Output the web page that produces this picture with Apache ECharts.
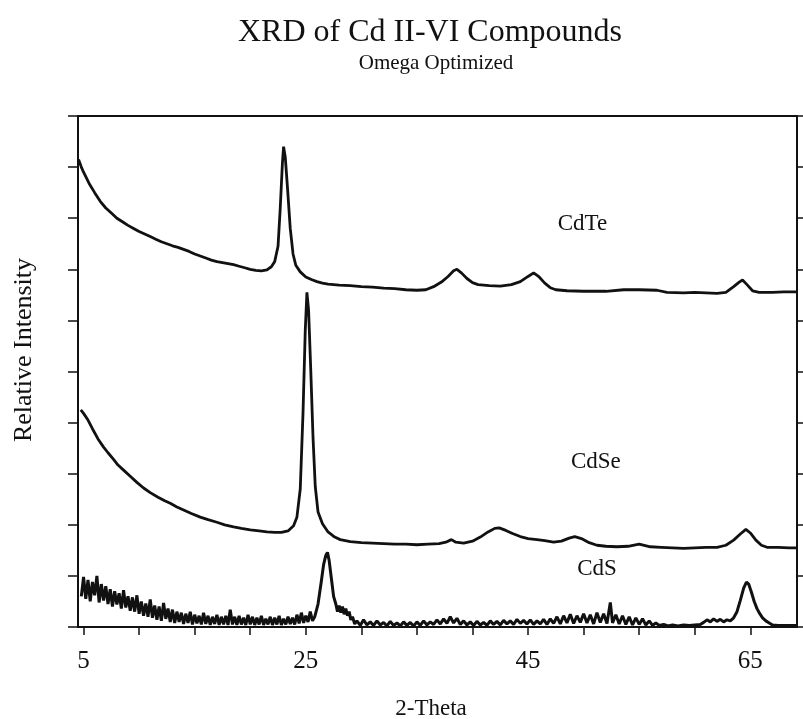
<!DOCTYPE html>
<html><head><meta charset="utf-8">
<script src="https://cdn.jsdelivr.net/npm/echarts@6/dist/echarts.min.js"></script>
<style>html,body{margin:0;padding:0;background:#fff}#c{width:803px;height:719px}</style>
</head><body><div id="c"></div>
<script>
const titleText = 'XRD of Cd II-VI Compounds';
const subtitleText = 'Omega Optimized';
const xName = '2-Theta';
const yName = 'Relative Intensity';
const xTicks = [5,10,15,20,25,30,35,40,45,50,55,60,65];
const xTickLabels = [5,25,45,65];
const seriesNames = ['CdTe','CdSe','CdS'];
const labelPos = [[49.9,7.89],[51.1,3.23],[51.2,1.13]];

const cdTe = [[4.55,9.15],[4.8,9.0],[5.0,8.9],[5.5,8.68],[6.0,8.5],[6.5,8.33],[7.0,8.2],[7.5,8.1],[8.0,8.0],[8.5,7.93],[9.0,7.86],[9.5,7.8],[10.0,7.74],[10.5,7.69],[11.0,7.64],[11.5,7.59],[12.0,7.54],[12.5,7.5],[13.0,7.46],[13.5,7.43],[14.0,7.39],[14.5,7.35],[15.0,7.3],[15.5,7.26],[16.0,7.22],[16.5,7.18],[17.0,7.15],[17.5,7.13],[18.0,7.11],[18.5,7.09],[19.0,7.06],[19.5,7.03],[20.0,7.0],[20.5,6.98],[21.0,6.97],[21.5,6.99],[21.9,7.05],[22.2,7.15],[22.5,7.45],[22.7,8.2],[22.9,9.1],[23.0,9.4],[23.15,9.2],[23.35,8.6],[23.6,7.8],[23.85,7.3],[24.1,7.08],[24.5,6.95],[25.0,6.85],[25.5,6.8],[26.0,6.76],[26.5,6.73],[27.0,6.71],[28,6.69],[29,6.68],[30,6.66],[31,6.65],[32,6.63],[33,6.62],[34,6.6],[35,6.59],[35.8,6.6],[36.5,6.66],[37.2,6.75],[37.8,6.86],[38.3,6.97],[38.6,7.0],[39.0,6.93],[39.5,6.82],[40.0,6.74],[40.5,6.7],[41.5,6.68],[42.5,6.67],[43.5,6.7],[44.3,6.76],[45.0,6.86],[45.5,6.93],[46.0,6.85],[46.5,6.73],[47.0,6.64],[47.5,6.6],[48.5,6.58],[50,6.57],[52,6.57],[53.6,6.6],[55,6.6],[56.6,6.59],[57.5,6.55],[59,6.54],[60,6.55],[61,6.54],[62,6.53],[62.8,6.55],[63.5,6.66],[64.0,6.75],[64.3,6.79],[64.7,6.7],[65.2,6.58],[65.8,6.55],[67,6.55],[68,6.56],[69.2,6.56]];

const cdSe = [[4.75,4.25],[5.0,4.18],[5.4,4.05],[5.8,3.88],[6.3,3.68],[6.8,3.52],[7.2,3.41],[7.7,3.28],[8.1,3.17],[8.6,3.07],[9.2,2.95],[9.8,2.83],[10.4,2.72],[11.0,2.63],[11.7,2.54],[12.3,2.47],[12.8,2.42],[13.4,2.35],[14.0,2.29],[14.7,2.22],[15.5,2.15],[16.2,2.1],[17.0,2.05],[17.7,2.0],[18.5,1.96],[19.2,1.93],[20.0,1.9],[20.8,1.88],[21.5,1.86],[22.2,1.85],[22.8,1.85],[23.4,1.88],[23.9,1.98],[24.2,2.15],[24.5,2.7],[24.75,4.2],[24.95,5.8],[25.1,6.55],[25.25,6.2],[25.45,5.0],[25.65,3.7],[25.85,2.75],[26.1,2.25],[26.5,2.02],[27.0,1.86],[27.6,1.76],[28.1,1.71],[29,1.67],[30,1.65],[31,1.64],[32,1.63],[33,1.62],[34,1.62],[35,1.61],[36,1.62],[37,1.63],[37.6,1.66],[38.1,1.71],[38.5,1.66],[39.2,1.64],[40,1.68],[40.7,1.76],[41.4,1.86],[42.0,1.93],[42.4,1.94],[43,1.89],[43.6,1.83],[44.3,1.77],[45,1.73],[45.8,1.71],[46.5,1.69],[47.3,1.66],[48.0,1.68],[48.7,1.74],[49.2,1.77],[49.8,1.73],[50.5,1.65],[51.2,1.6],[52,1.58],[53,1.57],[54,1.58],[55,1.62],[56,1.57],[57,1.56],[58,1.55],[59,1.54],[60,1.55],[61,1.56],[62,1.56],[62.8,1.6],[63.5,1.7],[64.1,1.82],[64.6,1.91],[65.0,1.84],[65.5,1.7],[66.0,1.6],[66.5,1.56],[67.5,1.56],[68.5,1.55],[69.2,1.55]];

const cdS = [[4.8,0.60],[5.0,0.98],[5.2,0.55],[5.4,0.92],[5.6,0.50],[5.8,0.88],[6.0,0.62],[6.2,1.00],[6.4,0.48],[6.6,0.84],[6.8,0.52],[7.0,0.80],[7.2,0.45],[7.4,0.74],[7.6,0.40],[7.8,0.70],[8.0,0.44],[8.2,0.66],[8.4,0.36],[8.6,0.72],[8.8,0.38],[9.0,0.60],[9.2,0.32],[9.4,0.58],[9.6,0.30],[9.8,0.62],[10.0,0.26],[10.2,0.50],[10.4,0.22],[10.6,0.46],[10.8,0.20],[11.0,0.54],[11.2,0.18],[11.4,0.42],[11.6,0.14],[11.8,0.40],[12.0,0.12],[12.2,0.47],[12.4,0.16],[12.6,0.36],[12.8,0.10],[13.0,0.34],[13.2,0.08],[13.4,0.30],[13.6,0.10],[13.8,0.28],[14.0,0.06],[14.2,0.26],[14.4,0.08],[14.6,0.30],[14.8,0.05],[15.0,0.24],[15.2,0.07],[15.4,0.22],[15.6,0.05],[15.8,0.28],[16.0,0.06],[16.2,0.22],[16.4,0.04],[16.6,0.20],[16.8,0.06],[17.0,0.24],[17.2,0.04],[17.4,0.20],[17.6,0.05],[17.8,0.22],[18.0,0.04],[18.2,0.34],[18.4,0.05],[18.6,0.20],[18.8,0.04],[19.0,0.22],[19.2,0.05],[19.4,0.18],[19.6,0.04],[19.8,0.24],[20.0,0.05],[20.2,0.20],[20.4,0.04],[20.6,0.18],[20.8,0.05],[21.0,0.22],[21.2,0.04],[21.4,0.16],[21.6,0.05],[21.8,0.20],[22.0,0.04],[22.2,0.18],[22.4,0.05],[22.6,0.22],[22.8,0.04],[23.0,0.16],[23.2,0.05],[23.4,0.20],[23.6,0.06],[23.8,0.18],[24.0,0.05],[24.2,0.24],[24.4,0.07],[24.6,0.28],[24.8,0.08],[25.0,0.22],[25.2,0.10],[25.4,0.30],[25.6,0.12],[25.8,0.20],[26.1,0.45],[26.4,0.90],[26.6,1.22],[26.8,1.40],[26.95,1.46],[27.1,1.30],[27.3,0.95],[27.5,0.60],[27.7,0.45],[27.85,0.30],[28.0,0.42],[28.15,0.28],[28.3,0.40],[28.45,0.25],[28.6,0.36],[28.75,0.22],[28.9,0.30],[29.05,0.14],[29.2,0.20],[29.4,0.06],[29.6,0.12],[29.9,0.03],[30.2,0.14],[30.5,0.04],[30.8,0.10],[31.1,0.03],[31.4,0.12],[31.7,0.04],[32.0,0.09],[32.3,0.02],[32.6,0.11],[32.9,0.03],[33.2,0.08],[33.5,0.02],[33.8,0.10],[34.1,0.03],[34.4,0.09],[34.7,0.02],[35.0,0.10],[35.3,0.03],[35.6,0.12],[35.9,0.04],[36.2,0.10],[36.5,0.05],[36.8,0.14],[37.1,0.06],[37.4,0.16],[37.7,0.07],[38.0,0.20],[38.3,0.08],[38.6,0.17],[38.9,0.05],[39.2,0.12],[39.5,0.04],[39.8,0.10],[40.1,0.03],[40.4,0.11],[40.7,0.04],[41.0,0.09],[41.3,0.03],[41.6,0.12],[41.9,0.05],[42.2,0.11],[42.5,0.04],[42.8,0.13],[43.1,0.06],[43.4,0.12],[43.7,0.05],[44.0,0.15],[44.3,0.07],[44.6,0.13],[44.9,0.06],[45.2,0.14],[45.5,0.05],[45.8,0.12],[46.1,0.06],[46.4,0.15],[46.7,0.05],[47.0,0.16],[47.3,0.07],[47.6,0.20],[47.9,0.06],[48.2,0.22],[48.5,0.08],[48.8,0.25],[49.1,0.07],[49.4,0.22],[49.7,0.09],[50.0,0.26],[50.3,0.08],[50.6,0.24],[50.9,0.06],[51.2,0.28],[51.5,0.09],[51.8,0.26],[52.1,0.07],[52.4,0.48],[52.6,0.08],[52.9,0.24],[53.2,0.06],[53.5,0.22],[53.8,0.05],[54.1,0.20],[54.4,0.04],[54.7,0.18],[55.0,0.05],[55.3,0.16],[55.6,0.04],[55.9,0.12],[56.2,0.03],[56.5,0.08],[56.8,0.03],[57.2,0.05],[57.6,0.02],[58.0,0.04],[58.5,0.02],[59.0,0.04],[59.5,0.03],[60.0,0.04],[60.5,0.05],[60.8,0.09],[61.1,0.14],[61.4,0.10],[61.7,0.16],[62.0,0.11],[62.3,0.15],[62.6,0.10],[62.9,0.14],[63.2,0.12],[63.5,0.18],[63.8,0.30],[64.1,0.52],[64.4,0.76],[64.65,0.88],[64.85,0.84],[65.1,0.68],[65.35,0.50],[65.6,0.36],[65.85,0.26],[66.1,0.18],[66.4,0.12],[66.7,0.08],[67.0,0.04],[67.5,0.03],[68.2,0.03],[69.2,0.03]];

const seriesData = [cdTe, cdSe, cdS];
const FONT = 'Liberation Serif';
const INK = '#111';

const chart = echarts.init(document.getElementById('c'), null, {renderer:'canvas'});
chart.setOption({
  backgroundColor:'#fff',
  animation:false,
  grid:{left:78, right:6, top:116, bottom:92},
  xAxis:[{
    type:'value', min:4.5, max:69.2, position:'bottom',
    axisLine:{show:true, onZero:false, lineStyle:{color:INK, width:2}},
    axisTick:{show:true, inside:false, length:8, customValues:xTicks, lineStyle:{color:INK, width:1.5}},
    axisLabel:{show:true, customValues:xTickLabels, margin:22, fontFamily:FONT, fontSize:25, color:INK},
    splitLine:{show:false}
  },{
    type:'value', min:4.5, max:69.2, position:'top',
    axisLine:{show:true, onZero:false, lineStyle:{color:INK, width:2}},
    axisTick:{show:false}, axisLabel:{show:false}, splitLine:{show:false}
  }],
  yAxis:[{
    type:'value', min:0, max:10, interval:1, position:'left',
    axisLine:{show:true, onZero:false, lineStyle:{color:INK, width:2}},
    axisTick:{show:true, inside:false, length:10, lineStyle:{color:INK, width:1.5}},
    axisLabel:{show:false}, splitLine:{show:false}
  },{
    type:'value', min:0, max:10, interval:1, position:'right',
    axisLine:{show:true, onZero:false, lineStyle:{color:INK, width:2}},
    axisTick:{show:true, inside:false, length:6, lineStyle:{color:INK, width:1.5}},
    axisLabel:{show:false}, splitLine:{show:false}
  }],
  graphic:[
    {type:'text', x:430, y:33, style:{text:titleText, font:'32px "Liberation Serif"', fill:INK, textAlign:'center', textVerticalAlign:'middle'}},
    {type:'text', x:436, y:63, style:{text:subtitleText, font:'21px "Liberation Serif"', fill:INK, textAlign:'center', textVerticalAlign:'middle'}},
    {type:'text', x:431, y:709, style:{text:xName, font:'23px "Liberation Serif"', fill:INK, textAlign:'center', textVerticalAlign:'middle'}},
    {type:'text', x:24, y:350, rotation:Math.PI/2, style:{text:yName, font:'26px "Liberation Serif"', fill:INK, textAlign:'center', textVerticalAlign:'middle'}}
  ],
  series: seriesData.map((d,i)=>({
    name:seriesNames[i], type:'line', data:d, showSymbol:false, symbol:'none', sampling:null,
    lineStyle:{color:INK, width: i===2 ? 3 : 2.8}, clip:true,
    markPoint:{
      symbol:'circle', symbolSize:0, silent:true,
      label:{show:true, position:'inside', formatter:seriesNames[i], fontFamily:FONT, fontSize:23, color:INK},
      data:[{coord:labelPos[i]}]
    }
  }))
});
</script></body></html>
